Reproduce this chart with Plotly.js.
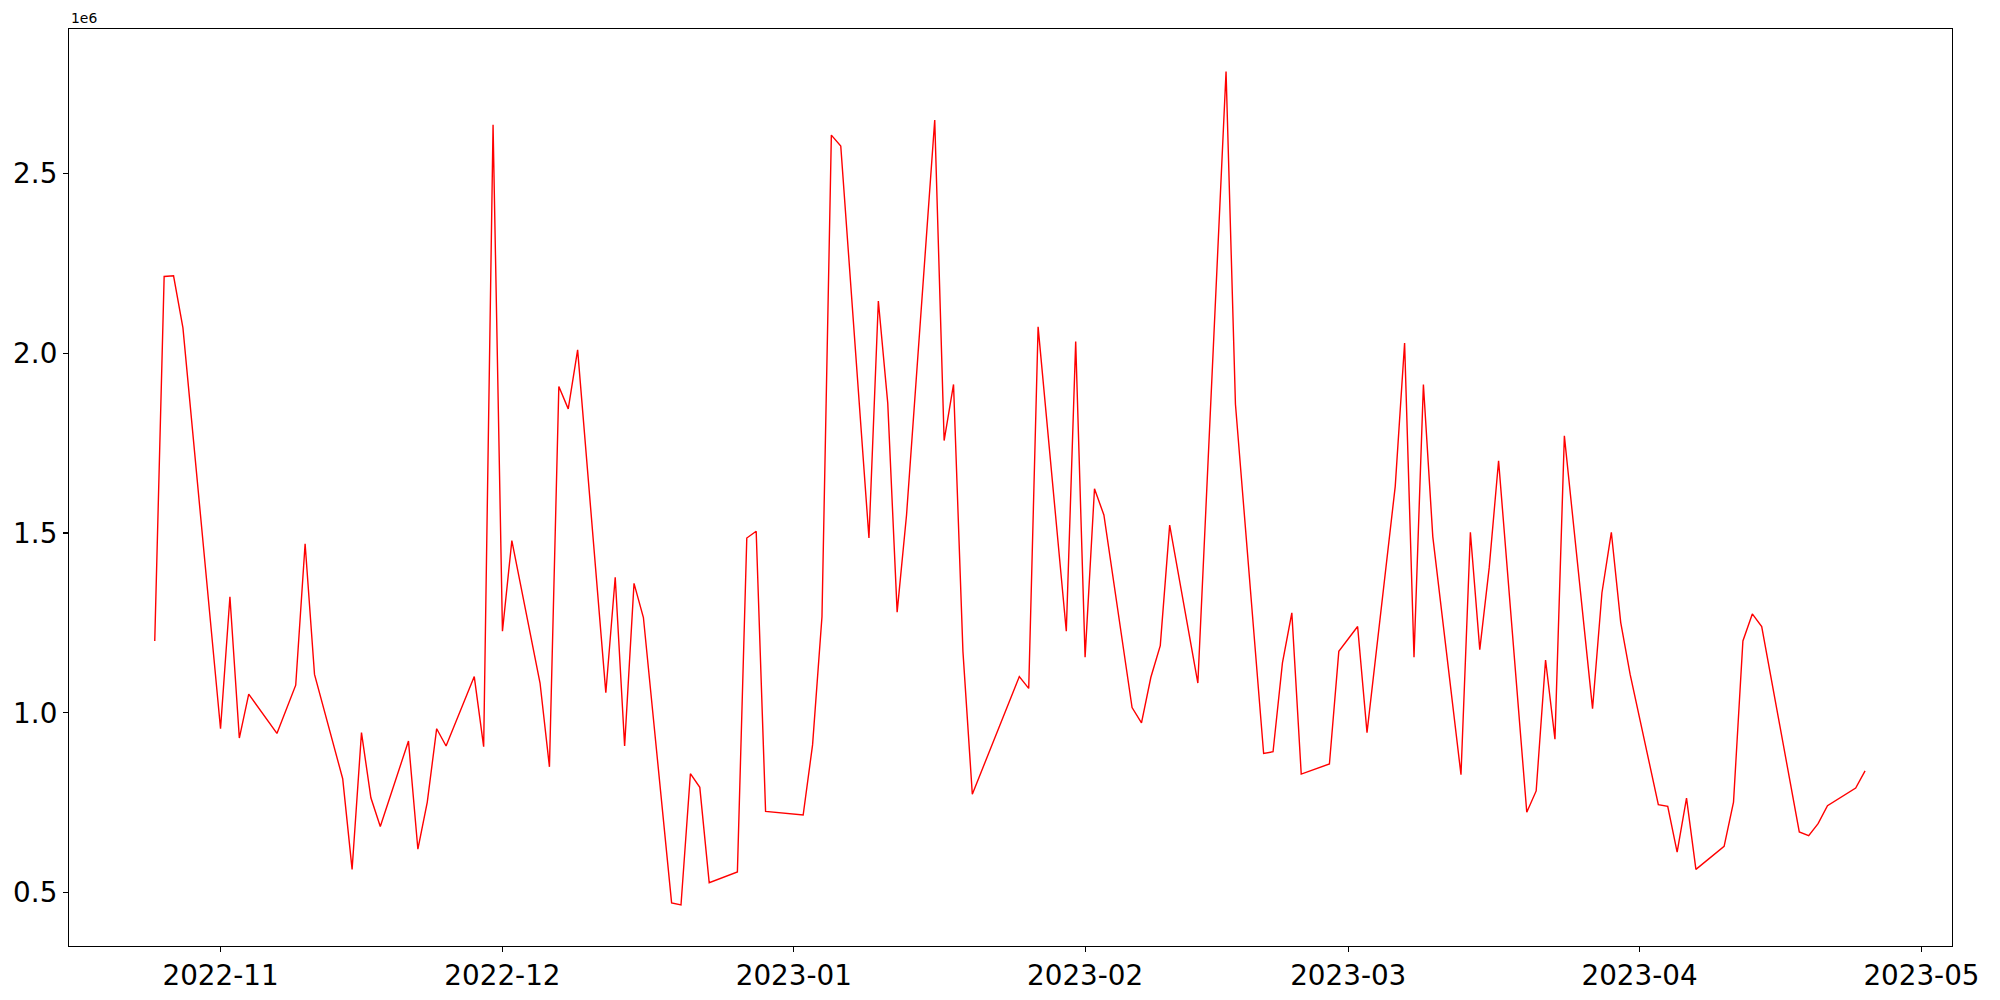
<!DOCTYPE html>
<html>
<head>
<meta charset="utf-8">
<script src="https://cdn.plot.ly/plotly-3.0.1.min.js"></script>
<style>
html,body{margin:0;padding:0;background:#fff;}
#chart{width:2000px;height:1000px;}
</style>
</head>
<body>
<div id="chart"></div>
<script>
const dates = [
"2022-10-25","2022-10-26","2022-10-27","2022-10-28",
"2022-11-01","2022-11-02","2022-11-03","2022-11-04","2022-11-07","2022-11-09","2022-11-10","2022-11-11",
"2022-11-14","2022-11-15","2022-11-16","2022-11-17","2022-11-18","2022-11-21","2022-11-22","2022-11-23",
"2022-11-24","2022-11-25","2022-11-28","2022-11-29","2022-11-30",
"2022-12-01","2022-12-02","2022-12-05","2022-12-06","2022-12-07","2022-12-08","2022-12-09","2022-12-12",
"2022-12-13","2022-12-14","2022-12-15","2022-12-16","2022-12-19","2022-12-20","2022-12-21","2022-12-22",
"2022-12-23","2022-12-26","2022-12-27","2022-12-28","2022-12-29",
"2023-01-02","2023-01-03","2023-01-04","2023-01-05","2023-01-06","2023-01-09","2023-01-10","2023-01-11",
"2023-01-12","2023-01-13","2023-01-16","2023-01-17","2023-01-18","2023-01-19","2023-01-20","2023-01-25",
"2023-01-26","2023-01-27","2023-01-30","2023-01-31",
"2023-02-01","2023-02-02","2023-02-03","2023-02-06","2023-02-07","2023-02-08","2023-02-09","2023-02-10",
"2023-02-13","2023-02-16","2023-02-17","2023-02-20","2023-02-21","2023-02-22","2023-02-23","2023-02-24",
"2023-02-27","2023-02-28",
"2023-03-02","2023-03-03","2023-03-06","2023-03-07","2023-03-08","2023-03-09","2023-03-10","2023-03-13",
"2023-03-14","2023-03-15","2023-03-16","2023-03-17","2023-03-20","2023-03-21","2023-03-22","2023-03-23",
"2023-03-24","2023-03-27","2023-03-28","2023-03-29","2023-03-30","2023-03-31",
"2023-04-03","2023-04-04","2023-04-05","2023-04-06","2023-04-07","2023-04-10","2023-04-11","2023-04-12",
"2023-04-13","2023-04-14","2023-04-18","2023-04-19","2023-04-20","2023-04-21","2023-04-24","2023-04-25"
];
const values = [
1200000,2213000,2215000,2070000,
956000,1323000,930000,1052000,943000,1077000,1470000,1107000,
817000,565000,945000,764000,684000,922000,621000,752000,
956000,908000,1101000,906000,2635000,
1227000,1479000,1083000,850000,1907000,1845000,2009000,1056000,
1377000,908000,1360000,1265000,472000,466000,831000,793000,
528000,558000,1486000,1505000,726000,
716000,911000,1267000,2606000,2576000,1486000,2145000,1861000,
1280000,1550000,2648000,1757000,1913000,1171000,774000,1101000,
1068000,2073000,1227000,2032000,
1155000,1623000,1550000,1015000,972000,1099000,1187000,1522000,
1083000,2783000,1858000,887000,892000,1139000,1278000,830000,
858000,1171000,
1240000,945000,1629000,2028000,1155000,1913000,1490000,828000,
1502000,1176000,1403000,1701000,724000,783000,1147000,927000,
1770000,1012000,1334000,1502000,1251000,1107000,
745000,740000,613000,763000,565000,629000,752000,1200000,
1275000,1240000,669000,659000,692000,742000,791000,839000
];
const yTickVals = [500000,1000000,1500000,2000000,2500000];
const yTickText = ["0.5","1.0","1.5","2.0","2.5"];
const offsetLabel = "1e6";

const trace = {
  x: dates, y: values, type: "scatter", mode: "lines",
  line: {color: "#ff0000", width: 1.4}, hoverinfo: "skip"
};
const font = {family: "DejaVu Sans, sans-serif", color: "#000"};
const layout = {
  width: 2000, height: 1000,
  paper_bgcolor: "#fff", plot_bgcolor: "#fff",
  margin: {l: 69, r: 48, t: 29, b: 54, pad: 0},
  showlegend: false,
  font: font,
  xaxis: {
    type: "date",
    range: ["2022-10-15 21:00", "2023-05-04 06:00"],
    tick0: "2022-11-01", dtick: "M1", tickformat: "%Y-%m",
    ticks: "outside", ticklen: 5, tickwidth: 1.1, tickcolor: "#000",
    showline: true, linecolor: "#000", linewidth: 1.1, mirror: true,
    showgrid: false, zeroline: false,
    tickfont: {family: "DejaVu Sans, sans-serif", size: 27.8, color: "#000"}
  },
  yaxis: {
    range: [352000, 2901000],
    tickmode: "array", tickvals: yTickVals, ticktext: yTickText,
    ticks: "outside", ticklen: 5, tickwidth: 1.1, tickcolor: "#000",
    showline: true, linecolor: "#000", linewidth: 1.1, mirror: true,
    showgrid: false, zeroline: false,
    tickfont: {family: "DejaVu Sans, sans-serif", size: 27.8, color: "#000"}
  },
  annotations: [{
    text: offsetLabel, xref: "paper", yref: "paper", x: 0, y: 1,
    xanchor: "left", yanchor: "bottom", yshift: 1, showarrow: false,
    font: {family: "DejaVu Sans, sans-serif", size: 13.9, color: "#000"}
  }]
};
Plotly.newPlot("chart", [trace], layout, {displayModeBar: false, staticPlot: true});
</script>
</body>
</html>
